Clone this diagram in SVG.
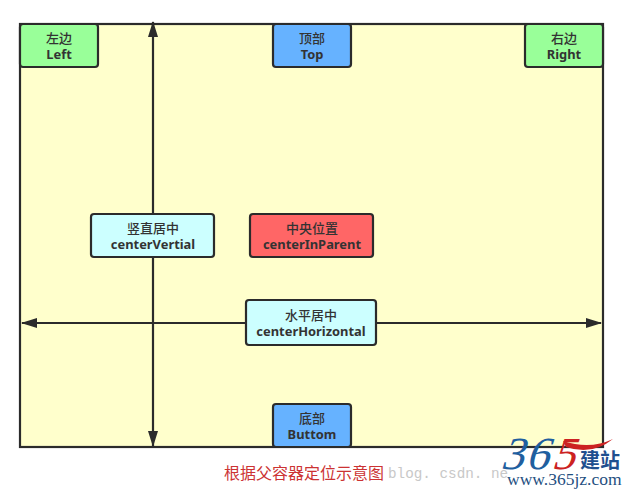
<svg xmlns="http://www.w3.org/2000/svg" width="629" height="493" viewBox="0 0 629 493">
<style>
.n{stroke:#2b2b2b;stroke-width:2.2}
.t{font-family:"Noto Sans CJK SC","Noto Sans",sans-serif;font-size:13px;font-weight:500;fill:#333;text-anchor:middle}
.b{font-family:"Noto Sans","Liberation Sans",sans-serif;font-size:12.9px;font-weight:700;fill:#333;text-anchor:middle}
.c{stroke:#2b2b2b;stroke-width:2.2;fill:none;marker-start:url(#a);marker-end:url(#a)}
</style>
<defs>
<marker id="a" viewBox="0 0 16 10" refX="15" refY="5" markerWidth="16" markerHeight="10" markerUnits="userSpaceOnUse" orient="auto-start-reverse"><path d="M0 0L16 5L0 10Z" fill="#2b2b2b"/></marker>
</defs>
<rect width="629" height="493" fill="#fff"/>
<g id="parent"><rect x="20" y="24" width="583" height="423" fill="#ffffcc" class="n"/></g>
<g id="connectors">
<path class="c" d="M153 22V446"/>
<path class="c" d="M22 323H601"/>
</g>
<g id="left"><rect x="20" y="24" width="78" height="43" rx="3" fill="#99ff99" class="n"/><text class="t" x="59" y="42.500">左边</text><text class="b" x="59" y="59">Left</text></g>
<g id="top"><rect x="273" y="24" width="78" height="43" rx="3" fill="#66b2ff" class="n"/><text class="t" x="312" y="42.500">顶部</text><text class="b" x="312" y="59">Top</text></g>
<g id="right"><rect x="525" y="24" width="78" height="43" rx="3" fill="#99ff99" class="n"/><text class="t" x="564" y="42.500">右边</text><text class="b" x="564" y="59">Right</text></g>
<g id="centerVertial"><rect x="91" y="214" width="123" height="43" rx="3" fill="#ccffff" class="n"/><text class="t" x="153" y="233">竖直居中</text><text class="b" x="153" y="249">centerVertial</text></g>
<g id="centerInParent"><rect x="250" y="214" width="123" height="43" rx="3" fill="#ff6666" class="n"/><text class="t" x="312" y="233">中央位置</text><text class="b" x="312" y="249">centerInParent</text></g>
<g id="centerHorizontal"><rect x="246" y="300" width="130" height="45" rx="3" fill="#ccffff" class="n"/><text class="t" x="311" y="320">水平居中</text><text class="b" x="311" y="336">centerHorizontal</text></g>
<g id="buttom"><rect x="273" y="404" width="78" height="43" rx="3" fill="#66b2ff" class="n"/><text class="t" x="312" y="423">底部</text><text class="b" x="312" y="439">Buttom</text></g>
<text x="224" y="479" font-family="Noto Sans CJK SC,sans-serif" font-size="16px" fill="#cc3333">根据父容器定位示意图</text>
<text x="388" y="478" font-family="Liberation Mono,monospace" font-size="14.300px" fill="#c8c8c8">blog. csdn. ne</text>
<g id="logo">
<text transform="translate(500 469) skewX(-18)" font-family="Liberation Serif,serif" font-size="46px" fill="#1f5f9f" letter-spacing="2">36</text>
<text transform="translate(551 469) skewX(-18)" font-family="Liberation Serif,serif" font-size="46px" fill="#cc2222">5</text>
<path d="M563 441Q590 450 613 439Q592 456 566 447Z" fill="#cc2222"/>
<text x="580" y="468" font-family="Noto Sans CJK SC,sans-serif" font-size="20px" font-weight="700" fill="#1f4f8f">建站</text>
<text x="507" y="485" font-family="Liberation Serif,serif" font-size="17.500px" fill="#1f4f7f">www.365jz.com</text>
</g>
</svg>
